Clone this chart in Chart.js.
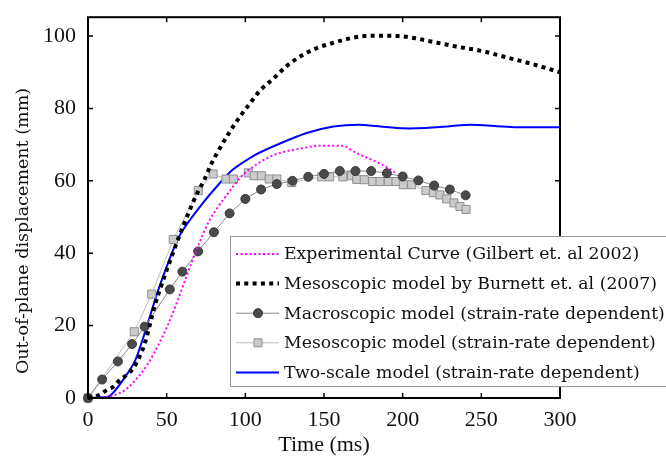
<!DOCTYPE html>
<html>
<head>
<meta charset="utf-8">
<script src="https://cdn.jsdelivr.net/npm/chart.js@4.4.1/dist/chart.umd.min.js"></script>
<style>
  body { margin: 0; background: #fff; }
  #wrap { width: 666px; height: 464px; }
</style>
</head>
<body>
<div id="wrap"><canvas id="dispChart" width="666" height="464"></canvas></div>
<script>
// tick values
var xTicks = [0, 50, 100, 150, 200, 250, 300];
var yTicks = [0, 20, 40, 60, 80, 100];

// Experimental curve (Gilbert et al 2002)
var expT = [0, 11, 23.5, 30, 38, 45, 51, 56, 61, 66, 71, 76.5, 83, 90, 97, 105, 118, 135, 147.5, 161, 171, 181, 191, 195];
var expY = [0, 0.2, 2.2, 4.9, 9.4, 14.9, 20.4, 25.8, 31.7, 37.6, 43.1, 48.5, 53, 57.1, 61, 63.9, 67.1, 68.9, 69.7, 69.7, 67.6, 65.7, 63.5, 62.3];

// Mesoscopic model by Burnett et al (2007)
var burT = [0, 7, 12, 16, 20, 25, 29, 33, 36, 39.4, 42.6, 46.8, 50.4, 54.2, 58.5, 62.3, 66.5, 70, 74, 77.5, 82, 90, 97, 103, 109, 118, 126, 135, 145, 155, 165, 176, 186, 197, 208, 218, 234, 250, 266, 282, 300];
var burY = [0, 0.8, 2.2, 3.1, 4.9, 6.5, 8.4, 11.7, 14.9, 20.4, 25.8, 31.3, 35.8, 40.3, 45.3, 49.4, 53.8, 57.1, 60.3, 63.9, 67.6, 73.5, 78, 81.4, 84.8, 88.3, 91.6, 94.4, 96.6, 98, 99.2, 100, 100.1, 100, 99.4, 98.5, 97.1, 95.9, 94.1, 92.3, 90];

// Macroscopic model (strain-rate dependent)
var macT = [0, 9, 19, 28, 36, 52, 60, 70, 80, 90, 100, 110, 120, 130, 140, 150, 160, 170, 180, 190, 200, 210, 220, 230, 240];
var macY = [0, 5.1, 10.1, 14.9, 19.7, 30, 34.9, 40.5, 45.8, 51, 55, 57.6, 59.1, 60, 61.1, 61.9, 62.7, 62.7, 62.7, 62.1, 61.2, 60.1, 58.7, 57.6, 56];

// Mesoscopic model (strain-rate dependent)
var mesT = [0, 29.4, 40.5, 54.2, 70.1, 79.5, 87.7, 92.4, 101.9, 105.6, 110.2, 115.2, 120, 129.5, 148.5, 153.6, 162, 167.5, 170.8, 175.6, 180.9, 185.6, 190.9, 195.8, 200.4, 205.7, 214.8, 219.5, 223.7, 228, 232.6, 236.4, 240.3];
var mesY = [0, 18.3, 28.7, 43.8, 57.3, 61.9, 60.5, 60.5, 62.2, 61.4, 61.4, 60.5, 60.5, 59.5, 61.1, 61.1, 61.1, 61.4, 60.4, 60.3, 59.8, 59.8, 59.8, 59.8, 58.9, 58.9, 57.3, 56.7, 56.1, 55, 53.9, 52.9, 52.1];

// Two-scale model (strain-rate dependent)
var twoT = [0, 14, 30, 45, 58, 74, 91, 106, 122, 139, 156, 172, 186, 200, 215, 230, 243, 260, 272, 300];
var twoY = [0, 0.6, 10.4, 30.3, 44.7, 54.4, 62.7, 67.1, 70.3, 73.2, 75, 75.5, 75, 74.5, 74.6, 75.1, 75.5, 75.1, 74.8, 74.8];

function pts(xs, ys) {
  return xs.map(function (x, i) { return { x: x, y: ys[i] }; });
}

var serif = '"Liberation Serif", "Times New Roman", serif';
var legendFont = '"DejaVu Serif", serif';

var framePlugin = {
  id: 'frame',
  afterDatasetsDraw: function (chart) {
    var ctx = chart.ctx, a = chart.chartArea, sx = chart.scales.x, sy = chart.scales.y;
    ctx.save();
    ctx.setLineDash([]);
    ctx.strokeStyle = '#000';
    ctx.lineWidth = 2;
    ctx.strokeRect(a.left, a.top, a.right - a.left, a.bottom - a.top);
    ctx.lineWidth = 1.5;
    ctx.beginPath();
    xTicks.forEach(function (v) {
      var p = sx.getPixelForValue(v);
      ctx.moveTo(p, a.bottom); ctx.lineTo(p, a.bottom - 5);
      ctx.moveTo(p, a.top); ctx.lineTo(p, a.top + 5);
    });
    yTicks.forEach(function (v) {
      var p = sy.getPixelForValue(v);
      ctx.moveTo(a.left, p); ctx.lineTo(a.left + 5, p);
      ctx.moveTo(a.right, p); ctx.lineTo(a.right - 5, p);
    });
    ctx.stroke();

    // y axis title
    ctx.fillStyle = '#111';
    ctx.font = '17.5px ' + legendFont;
    ctx.textAlign = 'center';
    ctx.textBaseline = 'middle';
    ctx.translate(23, 231);
    ctx.rotate(-Math.PI / 2);
    ctx.fillText('Out-of-plane displacement (mm)', 0, 0);
    ctx.restore();

    // legend box
    ctx.save();
    ctx.fillStyle = '#fff';
    ctx.fillRect(230.5, 236.5, 440, 150);
    ctx.strokeStyle = '#9a9a9a';
    ctx.lineWidth = 1;
    ctx.strokeRect(230.5, 236.5, 440, 150);
    chart.data.datasets.forEach(function (ds, i) {
      var y = 254 + i * 29.6;
      ctx.strokeStyle = ds.borderColor;
      ctx.lineWidth = ds.borderWidth;
      ctx.setLineDash(ds.borderDash || []);
      ctx.beginPath();
      ctx.moveTo(236, y); ctx.lineTo(279, y);
      ctx.stroke();
      ctx.setLineDash([]);
      if (ds.pointRadius > 0) {
        ctx.fillStyle = ds.pointBackgroundColor;
        ctx.strokeStyle = ds.pointBorderColor;
        ctx.lineWidth = 1;
        ctx.beginPath();
        if (ds.pointStyle === 'rect') {
          ctx.rect(254, y - 4, 8, 8);
        } else {
          ctx.arc(258, y, 4.5, 0, Math.PI * 2);
        }
        ctx.fill(); ctx.stroke();
      }
      ctx.fillStyle = '#111';
      ctx.font = '17.3px ' + legendFont;
      ctx.textAlign = 'left';
      ctx.textBaseline = 'middle';
      ctx.fillText(ds.label, 284, y + 1);
    });
    ctx.restore();
  }
};

var dispChart = new Chart(document.getElementById('dispChart').getContext('2d'), {
  type: 'line',
  data: {
    datasets: [{
      label: 'Experimental Curve (Gilbert et. al 2002)',
      data: pts(expT, expY),
      borderColor: '#ff00ff',
      borderWidth: 2,
      borderDash: [2, 2.5],
      pointRadius: 0,
      cubicInterpolationMode: 'monotone',
      clip: false
    }, {
      label: 'Mesoscopic model by Burnett et. al (2007)',
      data: pts(burT, burY),
      borderColor: '#000',
      borderWidth: 4,
      borderDash: [4, 4.3],
      pointRadius: 0,
      cubicInterpolationMode: 'monotone',
      clip: false
    }, {
      label: 'Macroscopic model (strain-rate dependent)',
      data: pts(macT, macY),
      borderColor: '#8a8a8a',
      borderWidth: 1,
      pointRadius: 4.5,
      pointStyle: 'circle',
      pointBackgroundColor: '#4a4a4a',
      pointBorderColor: '#3a3a3a',
      pointBorderWidth: 1,
      tension: 0,
      clip: false
    }, {
      label: 'Mesoscopic model (strain-rate dependent)',
      data: pts(mesT, mesY),
      borderColor: '#bdbdbd',
      borderWidth: 1,
      pointRadius: 5.7,
      pointStyle: 'rect',
      pointBackgroundColor: '#cbcbcb',
      pointBorderColor: '#8f8f8f',
      pointBorderWidth: 1,
      tension: 0,
      clip: false
    }, {
      label: 'Two-scale model (strain-rate dependent)',
      data: pts(twoT, twoY),
      borderColor: '#0000ff',
      borderWidth: 2,
      pointRadius: 0,
      tension: 0.2,
      clip: false
    }]
  },
  options: {
    responsive: false,
    animation: false,
    layout: { padding: { top: 12, right: 106, left: 0, bottom: 0 } },
    plugins: { legend: { display: false }, tooltip: { enabled: false } },
    scales: {
      x: {
        type: 'linear',
        min: 0, max: 300,
        afterFit: function (s) { s.height = 66; },
        afterBuildTicks: function (s) { s.ticks = xTicks.map(function (v) { return { value: v }; }); },
        grid: { display: false },
        border: { display: false },
        ticks: { color: '#111', padding: 1, maxRotation: 0, font: { family: serif, size: 22 } },
        title: { display: true, text: 'Time (ms)', color: '#111', padding: { top: 0, bottom: 6 }, font: { family: serif, size: 22 } }
      },
      y: {
        min: 0, max: 105.2,
        afterFit: function (s) { s.width = 88; },
        afterBuildTicks: function (s) { s.ticks = yTicks.map(function (v) { return { value: v }; }); },
        grid: { display: false },
        border: { display: false },
        ticks: { color: '#111', padding: 4, font: { family: serif, size: 22 } }
      }
    }
  },
  plugins: [framePlugin]
});
</script>
</body>
</html>
